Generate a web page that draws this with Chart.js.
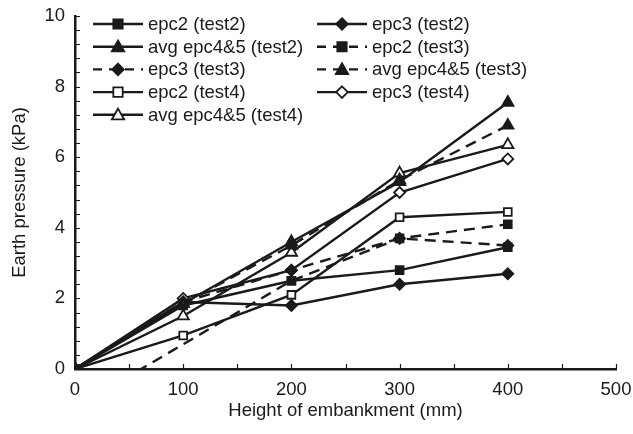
<!DOCTYPE html>
<html>
<head>
<meta charset="utf-8">
<script src="https://cdn.jsdelivr.net/npm/chart.js@4.4.1/dist/chart.umd.min.js"></script>
<style>
  html, body { margin: 0; padding: 0; background: #fff; }
  #wrap { width: 633px; height: 434px; }
</style>
</head>
<body>
<div id="wrap"><canvas id="myChart"></canvas></div>
<script>
// heights of embankment (mm)
const heights = [0, 100, 200, 300, 400]

// earth pressure (kPa)
const epc2Test2 = [0, 1.8, 2.5, 2.8, 3.45]
const epc3Test2 = [0, 1.9, 1.8, 2.4, 2.7]
const avgTest2 = [0, 1.85, 3.6, 5.3, 7.55]
const epc2Test3 = [-1.1, null, 2.5, 3.7, 4.1] // starts below zero, clipped
const epc3Test3 = [0, 1.9, 2.8, 3.7, 3.5]
const avgTest3 = [0, 1.85, 3.5, 5.35, 6.9]
const epc2Test4 = [0, 0.95, 2.1, 4.3, 4.45]
const epc3Test4 = [0, 2.0, 2.8, 5.0, 5.95]
const avgTest4 = [0, 1.5, 3.3, 5.55, 6.35]

const xTicks = [0, 100, 200, 300, 400, 500]
const yTicks = [0, 2, 4, 6, 8, 10]

const FONT = 'Liberation Sans, Arial, sans-serif'
const INK = '#1a1a1a'

function series(label, values, shape, filled, dashed) {
  return {
    label: label,
    data: heights.map((h, i) => ({ x: h, y: values[i] })),
    borderColor: INK,
    borderWidth: 2.4,
    borderDash: dashed ? [11, 7] : [],
    pointStyle: shape,
    pointRadius: shape === 'triangle' ? 6.5 : 5.5,
    pointBackgroundColor: filled ? INK : '#fff',
    pointBorderColor: INK,
    pointBorderWidth: 1.8,
    spanGaps: true,
    tension: 0,
    fill: false
  }
}

const datasets = [
  series('epc2 (test2)', epc2Test2, 'rect', true, false),
  series('epc3 (test2)', epc3Test2, 'rectRot', true, false),
  series('avg epc4&5 (test2)', avgTest2, 'triangle', true, false),
  series('epc2 (test3)', epc2Test3, 'rect', true, true),
  series('epc3 (test3)', epc3Test3, 'rectRot', true, true),
  series('avg epc4&5 (test3)', avgTest3, 'triangle', true, true),
  series('epc2 (test4)', epc2Test4, 'rect', false, false),
  series('epc3 (test4)', epc3Test4, 'rectRot', false, false),
  series('avg epc4&5 (test4)', avgTest4, 'triangle', false, false)
]

function marker(ctx, ds, x, y) {
  const r = ds.pointRadius
  ctx.save()
  ctx.setLineDash([])
  ctx.fillStyle = ds.pointBackgroundColor
  ctx.strokeStyle = ds.pointBorderColor
  ctx.lineWidth = ds.pointBorderWidth
  ctx.beginPath()
  if (ds.pointStyle === 'rect') {
    const s = r * 0.85
    ctx.rect(x - s, y - s, s * 2, s * 2)
  } else if (ds.pointStyle === 'rectRot') {
    const s = r * 1.05
    ctx.moveTo(x, y - s); ctx.lineTo(x + s, y); ctx.lineTo(x, y + s); ctx.lineTo(x - s, y)
    ctx.closePath()
  } else {
    const s = r * 0.95
    ctx.moveTo(x, y - s); ctx.lineTo(x + s, y + s * 0.75); ctx.lineTo(x - s, y + s * 0.75)
    ctx.closePath()
  }
  ctx.fill()
  ctx.stroke()
  ctx.restore()
}

// two-column legend inside the plot, like the original figure
const legendPlugin = {
  id: 'twoColLegend',
  afterDraw(chart) {
    const ctx = chart.ctx
    const cols = [93, 317]
    chart.data.datasets.forEach((ds, i) => {
      const x0 = cols[i % 2]
      const y = 24 + Math.floor(i / 2) * 22.7
      ctx.save()
      ctx.strokeStyle = INK
      ctx.lineWidth = 2.4
      ctx.setLineDash(ds.borderDash.length ? [9, 7] : [])
      ctx.beginPath()
      ctx.moveTo(x0, y)
      ctx.lineTo(x0 + 50, y)
      ctx.stroke()
      ctx.restore()
      marker(ctx, ds, x0 + 25, y)
      ctx.save()
      ctx.fillStyle = INK
      ctx.font = '18.5px ' + FONT
      ctx.textBaseline = 'middle'
      ctx.fillText(ds.label, x0 + 55, y + 1)
      ctx.restore()
    })
  }
}

// small tick marks pointing into the plot
const innerTicks = {
  id: 'innerTicks',
  afterDraw(chart) {
    const ctx = chart.ctx
    const xs = chart.scales.x
    const ys = chart.scales.y
    ctx.save()
    ctx.strokeStyle = INK
    ctx.lineWidth = 1.2
    ctx.beginPath()
    for (let v = 50; v <= 500; v += 50) {
      const px = Math.round(xs.getPixelForValue(v)) + 0.5
      ctx.moveTo(px, ys.bottom)
      ctx.lineTo(px, ys.bottom - 5)
    }
    for (let k = 1; k <= 25; k++) {
      const py = Math.round(ys.getPixelForValue(k * 0.4)) + 0.5
      ctx.moveTo(xs.left, py)
      ctx.lineTo(xs.left + 5, py)
    }
    ctx.stroke()
    ctx.restore()
  }
}

const ctx = document.getElementById('myChart').getContext('2d')

const myChart = new Chart(ctx, {
  type: 'line',
  data: { datasets: datasets },
  options: {
    responsive: true,
    maintainAspectRatio: false,
    animation: false,
    layout: { padding: { left: 0, right: 17, top: 16, bottom: 0 } },
    plugins: {
      legend: { display: false },
      tooltip: { enabled: false }
    },
    scales: {
      x: {
        type: 'linear',
        min: 0,
        max: 500,
        afterFit: s => { s.height = 65; s.paddingLeft = 0; s.paddingRight = 0 },
        afterBuildTicks: s => { s.ticks = xTicks.map(v => ({ value: v })) },
        grid: { drawOnChartArea: false, drawTicks: false },
        border: { color: INK, width: 2.5 },
        ticks: { padding: 10, color: INK, font: { family: FONT, size: 18.5 } },
        title: {
          display: true,
          text: 'Height of embankment (mm)',
          color: INK,
          font: { family: FONT, size: 18.5 },
          padding: { top: 0, bottom: 12 }
        }
      },
      y: {
        min: 0,
        max: 10,
        afterFit: s => { s.width = 75; s.paddingTop = 0; s.paddingBottom = 0 },
        afterBuildTicks: s => { s.ticks = yTicks.map(v => ({ value: v })) },
        grid: { drawOnChartArea: false, drawTicks: false },
        border: { color: INK, width: 2.5 },
        ticks: { padding: 10, color: INK, font: { family: FONT, size: 18.5 } },
        title: {
          display: true,
          text: 'Earth pressure (kPa)',
          color: INK,
          font: { family: FONT, size: 18.5 },
          padding: { top: 9, bottom: 0 }
        }
      }
    }
  },
  plugins: [legendPlugin, innerTicks]
})
</script>
</body>
</html>
